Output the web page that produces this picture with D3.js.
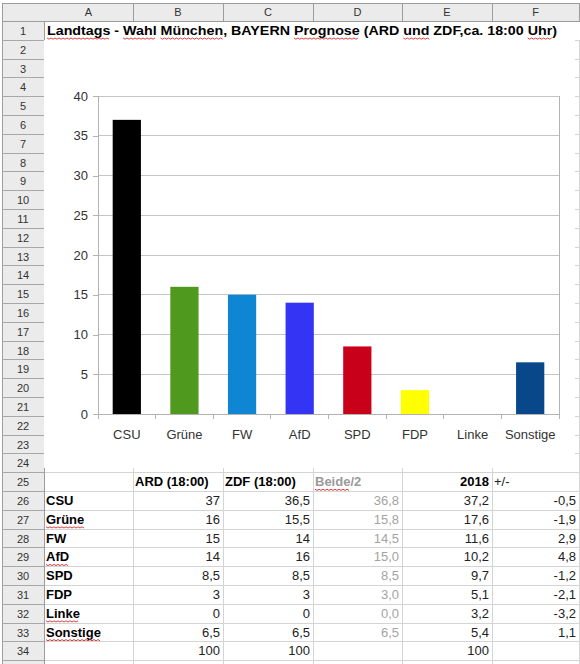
<!DOCTYPE html>
<html>
<head>
<meta charset="utf-8">
<script src="https://cdn.jsdelivr.net/npm/d3@7"></script>
<style>
  body { margin: 0; background: #fff; }
  text { font-family: "Liberation Sans", Arial, sans-serif; }
</style>
</head>
<body>
<svg id="sheet"></svg>
<script>
// ---- data ----
var parties = ["CSU", "Grüne", "FW", "AfD", "SPD", "FDP", "Linke", "Sonstige"];
var partyColors = ["#000000", "#4f9a1e", "#0e86d4", "#3434f5", "#c8001a", "#ffff00", "#9a9a9a", "#07478a"];
var ard = [37, 16, 15, 14, 8.5, 3, 0, 6.5];
var zdf = [36.5, 15.5, 14, 16, 8.5, 3, 0, 6.5];
var beide = [36.8, 15.8, 14.5, 15.0, 8.5, 3.0, 0.0, 6.5];
var wahl2018 = [37.2, 17.6, 11.6, 10.2, 9.7, 5.1, 3.2, 5.4];
var diff = [-0.5, -1.9, 2.9, 4.8, -1.2, -2.1, -3.2, 1.1];
var totals = {ard: 100, zdf: 100, wahl2018: 100};
var yTicks = [0, 5, 10, 15, 20, 25, 30, 35, 40];
var colLetters = ["A", "B", "C", "D", "E", "F"];
var headers = ["ARD (18:00)", "ZDF (18:00)", "Beide/2", "2018", "+/-"];
var title = "Landtags - Wahl München, BAYERN Prognose (ARD und ZDF,ca. 18:00 Uhr)";

var width = 580, height = 664;
var svg = d3.select("#sheet")
  .attr("width", width)
  .attr("height", height);

var colEdges = [44, 133, 223, 313, 402, 492, 579];
var rowTop = 21, rowH = 18.8;
function rowY(r) { return rowTop + (r - 1) * rowH; }
var rows = d3.range(1, 36);

// ---- sheet grid ----
var grid = svg.append("g")
  .attr("stroke", "#d4d4d4")
  .attr("shape-rendering", "crispEdges");
grid.selectAll("line.h")
  .data(rows)
  .enter().append("line")
  .attr("class", "h")
  .attr("x1", 44).attr("x2", colEdges[6])
  .attr("y1", function (r) { return Math.round(rowY(r + 1)) + 0.5; })
  .attr("y2", function (r) { return Math.round(rowY(r + 1)) + 0.5; });
grid.selectAll("line.v")
  .data(colEdges.slice(1))
  .enter().append("line")
  .attr("class", "v")
  .attr("x1", function (d) { return d + 0.5; })
  .attr("x2", function (d) { return d + 0.5; })
  .attr("y1", rowY(2)).attr("y2", height);

// column / row header strips
var head = svg.append("g").attr("shape-rendering", "crispEdges");
head.append("rect")
  .attr("x", 2).attr("y", 3).attr("width", colEdges[6] - 2).attr("height", rowTop - 3)
  .attr("fill", "#ebebeb").attr("stroke", "#9c9c9c");
head.append("rect")
  .attr("x", 2).attr("y", rowTop).attr("width", 42).attr("height", height)
  .attr("fill", "#ebebeb").attr("stroke", "#9c9c9c");
head.selectAll("line.cv")
  .data(colEdges.slice(1))
  .enter().append("line")
  .attr("x1", function (d) { return d + 0.5; })
  .attr("x2", function (d) { return d + 0.5; })
  .attr("y1", 3).attr("y2", rowTop)
  .attr("stroke", "#9c9c9c");
head.selectAll("line.rh")
  .data(rows)
  .enter().append("line")
  .attr("x1", 2).attr("x2", 44)
  .attr("y1", function (r) { return Math.round(rowY(r + 1)) + 0.5; })
  .attr("y2", function (r) { return Math.round(rowY(r + 1)) + 0.5; })
  .attr("stroke", "#a8a8a8");
head.selectAll("text.col")
  .data(colLetters)
  .enter().append("text")
  .attr("x", function (d, i) { return (colEdges[i] + colEdges[i + 1]) / 2; })
  .attr("y", 16)
  .attr("text-anchor", "middle")
  .attr("font-size", 11)
  .attr("fill", "#333")
  .text(function (d) { return d; });
head.selectAll("text.row")
  .data(rows.slice(0, 34))
  .enter().append("text")
  .attr("x", 23)
  .attr("y", function (r) { return rowY(r) + 14; })
  .attr("text-anchor", "middle")
  .attr("font-size", 11)
  .attr("fill", "#333")
  .text(function (d) { return d; });

// spell-check squiggle under a word of a text element
function squiggle(textSel, word) {
  var node = textSel.node();
  var str = node.textContent;
  var idx = str.indexOf(word);
  if (idx < 0) return;
  var x0 = node.getStartPositionOfChar(idx).x;
  var x1 = node.getEndPositionOfChar(idx + word.length - 1).x;
  var y0 = +textSel.attr("y") + 3;
  var pts = [];
  for (var x = 0; x <= x1 - x0; x += 2) pts.push([x0 + x, y0 + ((x / 2) % 2 ? 1.2 : 0)]);
  svg.append("path")
    .attr("d", d3.line()(pts))
    .attr("fill", "none")
    .attr("stroke", "#e02828")
    .attr("stroke-width", 0.9);
}

// ---- title row ----
var titleText = svg.append("text")
  .attr("x", 47).attr("y", rowY(1) + 14)
  .attr("font-size", 13.5).attr("font-weight", "bold")
  .attr("fill", "#000")
  .attr("textLength", 510)
  .attr("lengthAdjust", "spacingAndGlyphs")
  .text(title);
["Landtags", "Wahl", "München", "Prognose", "und", "Uhr"].forEach(function (w) { squiggle(titleText, w); });

// ---- chart object ----
var chart = svg.append("g");
chart.append("rect")
  .attr("x", 44).attr("y", 40).attr("width", 531).attr("height", 428)
  .attr("fill", "#fff");

var plot = {left: 98, right: 559, top: 96, bottom: 414};
var x = d3.scaleBand()
  .domain(parties)
  .range([plot.left, plot.right])
  .paddingInner(0.51)
  .paddingOuter(0.255);
var y = d3.scaleLinear()
  .domain([0, 40])
  .range([plot.bottom, plot.top]);

chart.append("g")
  .attr("shape-rendering", "crispEdges")
  .selectAll("line")
  .data(yTicks.slice(1))
  .enter().append("line")
  .attr("x1", plot.left).attr("x2", plot.right)
  .attr("y1", function (d) { return y(d); })
  .attr("y2", function (d) { return y(d); })
  .attr("stroke", "#c4c4c4");
chart.append("line")
  .attr("shape-rendering", "crispEdges")
  .attr("x1", plot.right).attr("x2", plot.right)
  .attr("y1", plot.top).attr("y2", plot.bottom + 5)
  .attr("stroke", "#b3b3b3");

chart.selectAll("rect.bar")
  .data(parties)
  .enter().append("rect")
  .attr("class", "bar")
  .attr("x", function (d) { return x(d); })
  .attr("width", x.bandwidth())
  .attr("y", function (d, i) { return y(ard[i]); })
  .attr("height", function (d, i) { return y(0) - y(ard[i]); })
  .attr("fill", function (d, i) { return partyColors[i]; });

var yAxis = chart.append("g")
  .attr("transform", "translate(" + plot.left + ",0)")
  .call(d3.axisLeft(y).tickValues(yTicks).tickSize(5).tickPadding(5));
var xAxis = chart.append("g")
  .attr("transform", "translate(0," + plot.bottom + ")")
  .call(d3.axisBottom(x).tickSize(0).tickPadding(16));
[yAxis, xAxis].forEach(function (a) {
  a.selectAll("path, line").attr("stroke", "#b3b3b3").attr("shape-rendering", "crispEdges");
  a.selectAll("text").attr("font-size", 13).attr("fill", "#333")
    .attr("font-family", "\"Liberation Sans\", Arial, sans-serif");
});
xAxis.select(".domain").attr("d", "M" + plot.left + ",0.5H" + plot.right);
chart.append("g")
  .attr("transform", "translate(0," + plot.bottom + ")")
  .selectAll("line")
  .data(d3.range(parties.length + 1))
  .enter().append("line")
  .attr("shape-rendering", "crispEdges")
  .attr("x1", function (i) { return plot.left + i * x.step(); })
  .attr("x2", function (i) { return plot.left + i * x.step(); })
  .attr("y1", 0).attr("y2", 5)
  .attr("stroke", "#b3b3b3");

// ---- table ----
function comma(v) { return String(v).replace(".", ","); }
function comma1(v) { return d3.format(".1f")(v).replace(".", ","); }

function cell(col, row, str, opts) {
  opts = opts || {};
  var right = opts.align !== "left";
  var t = svg.append("text")
    .attr("x", right ? colEdges[col + 1] - 3 : colEdges[col] + 2)
    .attr("y", rowY(row) + 14)
    .attr("text-anchor", right ? "end" : "start")
    .attr("font-size", 13)
    .attr("font-weight", opts.bold ? "bold" : "normal")
    .attr("fill", opts.color || "#222")
    .text(str);
  return t;
}

cell(1, 25, headers[0], {bold: true, color: "#000", align: "left"});
cell(2, 25, headers[1], {bold: true, color: "#000", align: "left"});
var beideHead = cell(3, 25, headers[2], {bold: true, color: "#9a9a9a", align: "left"});
squiggle(beideHead, "Beide");
cell(4, 25, headers[3], {bold: true, color: "#000"});
cell(5, 25, headers[4], {align: "left", color: "#222"});

parties.forEach(function (p, i) {
  var r = 26 + i;
  var lab = cell(0, r, p, {bold: true, color: "#000", align: "left"});
  if (["Grüne", "AfD", "Linke", "Sonstige"].indexOf(p) >= 0) squiggle(lab, p);
  cell(1, r, comma(ard[i]));
  cell(2, r, comma(zdf[i]));
  cell(3, r, comma1(beide[i]), {color: "#a3a3a3"});
  cell(4, r, comma1(wahl2018[i]));
  cell(5, r, comma(diff[i]));
});
cell(1, 34, totals.ard);
cell(2, 34, totals.zdf);
cell(4, 34, totals.wahl2018);
</script>
</body>
</html>
